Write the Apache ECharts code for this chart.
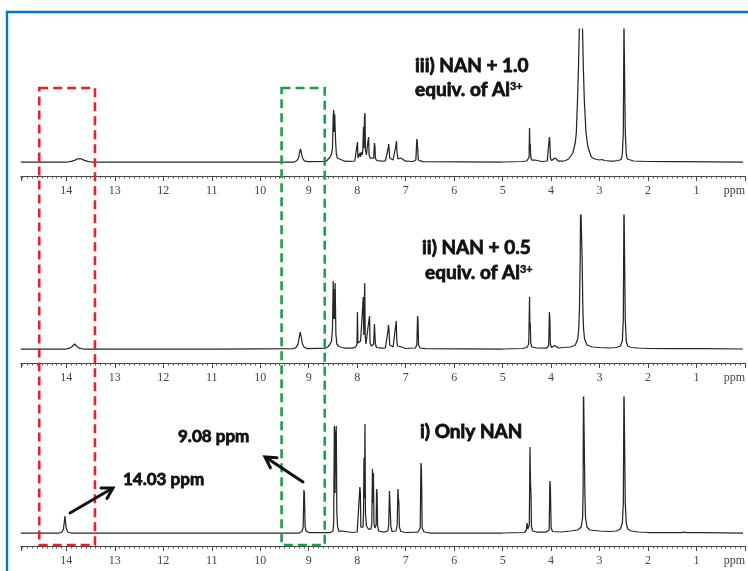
<!DOCTYPE html>
<html><head><meta charset="utf-8">
<script src="https://cdn.jsdelivr.net/npm/echarts@6/dist/echarts.min.js"></script>
<style>html,body{margin:0;padding:0;background:#fff}#c{width:748px;height:571px}</style>
</head><body><div id="c"></div>
<script>
// ---- data (ppm, intensity above baseline) ----
const panelTitles = ['iii) NAN + 1.0', 'ii) NAN + 0.5', 'i) Only NAN'];
const panelSubtitle = 'equiv. of Al{s|3+}';
const tickLabelMax = 14;
const unitLabel = 'ppm';
const peakNotes = ['9.08 ppm', '14.03 ppm'];
const redBoxPpm = [14.56, 13.41];
const greenBoxPpm = [9.56, 8.67];

const specIII = [
[14.94,0],[13.98,0],[13.9,0.6],[13.83,1.6],[13.77,3.2],[13.73,3.8],[13.69,3.2],[13.63,1.6],[13.56,0.6],[13.48,0],
[12.02,0],[12.0,0.6],[11.98,0],[10.82,0],[10.8,1],[10.78,0],[10.1,0],[10.08,0.6],[10.06,0],
[9.3,0],[9.25,1.2],[9.21,4],[9.19,9],[9.17,13],[9.15,9],[9.13,4],[9.09,1.2],[9.02,0.4],
[8.64,0.6],[8.6,2],[8.56,5],[8.53,8],[8.51,14],[8.495,45],[8.485,52],[8.475,30],[8.465,48],[8.455,50],[8.445,20],[8.43,8],[8.41,4],[8.37,2],[8.34,2.5],[8.32,1.5],[8.26,0.8],[8.15,0.6],
[8.05,1],[8.01,3],[7.995,20],[7.985,4],[7.96,6],[7.945,9],[7.935,5],[7.915,10],[7.9,7],[7.885,11],[7.87,35],[7.86,14],[7.85,45],[7.84,49],[7.83,12],[7.81,7],[7.79,9],[7.775,22],[7.765,25],[7.755,7],[7.73,4],[7.7,2.5],[7.66,4],[7.645,19],[7.635,16],[7.625,4],[7.6,1.5],[7.5,0.8],[7.42,1],[7.38,3],[7.36,14],[7.35,18],[7.34,12],[7.33,4],[7.3,2],[7.26,2],[7.22,4],[7.2,17],[7.19,21],[7.18,10],[7.16,3],[7.12,3],[7.1,4],[7.08,2],[7.0,0.8],[6.85,0.5],[6.79,2],[6.77,23],[6.76,20],[6.74,2],[6.65,0.3],
[5.0,0],[4.6,0.5],[4.5,1],[4.47,2],[4.455,5],[4.445,34],[4.435,12],[4.43,18],[4.42,5],[4.4,2],[4.36,1.5],[4.33,2],[4.3,1],[4.2,0.5],[4.08,1],[4.05,3],[4.035,25],[4.025,20],[4.015,4],[3.99,1.5],[3.95,2],[3.92,4],[3.9,2],[3.85,1],[3.75,1],
[3.7,1.5],[3.64,3],[3.6,5],[3.55,9],[3.5,20],[3.48,29],[3.455,62],[3.435,95],[3.415,140],[3.355,140],[3.335,95],[3.315,62],[3.28,29],[3.24,15],[3.17,5],[3.1,3],[3.0,2],[2.95,2.5],[2.9,1.5],[2.8,1],[2.7,1],[2.6,1.5],[2.55,3],[2.53,8],[2.51,30],[2.497,140],[2.483,140],[2.47,30],[2.45,8],[2.43,3],[2.4,1.5],[2.3,1],[2.0,0.5],[1.5,0.3],[1.36,0.3],[1.34,1.5],[1.32,0.3],[0.04,0]
];

const specII = [
[14.94,0],[14.0,0],[13.93,0.8],[13.88,2.5],[13.85,4.5],[13.83,5],[13.81,4.5],[13.78,2.5],[13.73,0.8],[13.66,0],
[10.82,0],[10.8,0.8],[10.78,0],
[9.32,0.3],[9.26,1.5],[9.22,5],[9.195,12],[9.175,17],[9.155,12],[9.13,5],[9.09,1.5],[9.02,0.4],
[8.65,0.8],[8.6,2.5],[8.56,5],[8.53,8],[8.51,20],[8.495,68],[8.485,30],[8.475,60],[8.465,30],[8.455,66],[8.44,15],[8.42,5],[8.38,2.5],[8.34,2.5],[8.32,1.5],[8.25,0.8],[8.1,0.8],
[8.03,2],[8.005,5],[7.995,37],[7.985,6],[7.97,4],[7.95,6],[7.93,8],[7.91,6],[7.89,10],[7.875,52],[7.865,14],[7.855,40],[7.845,66],[7.835,14],[7.82,5],[7.8,4],[7.78,6],[7.755,30],[7.745,33],[7.735,6],[7.71,3],[7.68,3],[7.66,5],[7.645,25],[7.635,27],[7.625,5],[7.6,1.5],[7.5,0.8],[7.42,1],[7.38,3],[7.365,18],[7.355,24],[7.345,20],[7.33,4],[7.3,2],[7.26,2],[7.22,4],[7.205,24],[7.195,28],[7.185,10],[7.17,3],[7.12,2.5],[7.1,3],[7.08,1.5],[7.0,0.5],[6.8,1],[6.77,4],[6.755,33],[6.745,28],[6.735,4],[6.7,1],[6.6,0.3],
[5.0,0],[4.6,0.5],[4.5,1.5],[4.47,4],[4.46,8],[4.455,6],[4.445,52],[4.437,20],[4.43,26],[4.42,6],[4.4,2],[4.3,1],[4.1,0.8],[4.05,3],[4.035,37],[4.025,30],[4.015,5],[3.99,1.5],[3.95,2],[3.93,3.5],[3.91,2],[3.85,1],[3.75,1.5],
[3.6,2],[3.5,4],[3.45,10],[3.43,20],[3.415,40],[3.4,90],[3.39,150],[3.37,150],[3.36,90],[3.345,40],[3.33,20],[3.31,10],[3.26,4],[3.15,2],[3.0,1.5],[2.8,1],[2.65,1.5],[2.57,3],[2.53,8],[2.51,30],[2.497,150],[2.483,150],[2.47,30],[2.45,8],[2.42,3],[2.35,1.5],[2.2,1],[2.0,0.5],[1.5,0.3],[1.37,0.3],[1.35,1.5],[1.33,0.3],[0.9,0.3],[0.86,1],[0.82,0.3],[0.04,0]
];

const specI = [
[14.94,0],[14.15,0],[14.09,1],[14.06,4],[14.045,10],[14.03,17],[14.015,10],[14.0,4],[13.97,1],[13.9,0],
[10.8,0],[10.77,1.2],[10.74,0],
[9.2,0],[9.14,1.5],[9.115,6],[9.1,43],[9.09,40],[9.075,6],[9.05,1.5],[8.98,0.3],
[8.55,0.5],[8.5,2],[8.485,10],[8.472,107],[8.457,40],[8.445,100],[8.432,107],[8.42,20],[8.405,6],[8.38,2],[8.35,1],[8.32,2],[8.3,4],[8.28,1],[8.1,0.5],
[8.0,1],[7.96,3],[7.945,46],[7.935,40],[7.925,6],[7.9,4],[7.88,6],[7.87,20],[7.86,75],[7.85,35],[7.84,109],[7.83,20],[7.81,7],[7.79,5],[7.77,4],[7.72,4],[7.7,8],[7.685,64],[7.675,30],[7.665,60],[7.655,10],[7.635,5],[7.61,8],[7.6,44],[7.59,40],[7.58,8],[7.56,2],[7.45,0.8],[7.37,2],[7.35,8],[7.335,42],[7.325,30],[7.315,28],[7.305,6],[7.28,1.5],[7.2,2],[7.175,8],[7.16,44],[7.15,35],[7.14,30],[7.13,6],[7.1,1.5],[7.0,0.5],[6.75,0.8],[6.7,5],[6.685,70],[6.675,65],[6.66,5],[6.62,1],[6.5,0],
[5.0,0],[4.55,0.5],[4.51,3],[4.495,10],[4.48,4],[4.45,8],[4.435,86],[4.425,50],[4.415,40],[4.405,6],[4.38,2],[4.3,1],[4.1,1],[4.04,3],[4.025,52],[4.015,46],[4.0,5],[3.97,1.5],[3.8,1],[3.6,2],[3.45,3],[3.38,6],[3.35,15],[3.34,40],[3.332,150],[3.312,150],[3.303,40],[3.29,15],[3.26,6],[3.2,3],[3.0,2],[2.8,1.5],[2.65,2],[2.57,4],[2.53,10],[2.51,30],[2.497,150],[2.483,150],[2.47,30],[2.45,10],[2.42,4],[2.35,2],[2.2,1],[2.0,0.5],[1.3,0.3],[1.25,0.8],[1.2,0.3],[0.9,0.3],[0.86,1.2],[0.82,0.3],[0.04,0]
];

// ---- layout ----
const panels = [
  {top: 29, height: 147, ymin: -14, ymax: 133, data: specIII},
  {top: 215, height: 148, ymin: -14, ymax: 134, data: specII},
  {top: 397, height: 149, ymin: -13, ymax: 136, data: specI}
];
const gridLeft = 20.8, gridWidth = 729.1;

const chart = echarts.init(document.getElementById('c'));
const option = {
  animation: false,
  backgroundColor: '#fff',
  grid: panels.map(p => ({left: gridLeft, width: gridWidth, top: p.top, height: p.height})),
  xAxis: panels.map((p, i) => ({
    type: 'value', gridIndex: i, inverse: true, min: 0, max: 14.94, interval: 1,
    axisLine: {onZero: false, lineStyle: {color: '#444', width: 1}},
    axisTick: {show: true, length: 5, lineStyle: {color: '#444'}},
    minorTick: {show: true, splitNumber: 10, length: 2.5, lineStyle: {color: '#555'}},
    splitLine: {show: false}, minorSplitLine: {show: false},
    axisLabel: {
      margin: 9, color: '#444', fontFamily: 'Liberation Serif', fontSize: 12,
      showMinLabel: true, showMaxLabel: true, alignMinLabel: 'right',
      formatter: v => v === 0 ? unitLabel : (Number.isInteger(v) && v >= 1 && v <= tickLabelMax ? String(v) : '')
    }
  })),
  yAxis: panels.map((p, i) => ({type: 'value', gridIndex: i, min: p.ymin, max: p.ymax, show: false})),
  series: panels.map((p, i) => ({
    type: 'line', xAxisIndex: i, yAxisIndex: i, data: p.data, showSymbol: false, symbol: 'none',
    sampling: null, clip: true, lineStyle: {color: '#262626', width: 1.25}
  }))
};
chart.setOption(option);

const px = v => chart.convertToPixel({xAxisIndex: 0}, v);
const boldFont = 'Lato';
const supRich = {s: {fontSize: 11, fontWeight: 'bold', fontFamily: boldFont, verticalAlign: 'top', fill: '#111', stroke: '#111', lineWidth: 0.5}};
function label(x, y, text, size) {
  return {type: 'text', x: x, y: y, z: 10, style: {text: text, fontSize: size, fontWeight: 'bold', fontFamily: boldFont, fill: '#111', stroke: '#111', lineWidth: 0.8, verticalAlign: 'middle', rich: supRich}};
}
function dashBox(range, color) {
  const x1 = px(range[0]), x2 = px(range[1]);
  return {type: 'rect', z: 5, shape: {x: x1, y: 88, width: x2 - x1, height: 457},
    style: {fill: null, stroke: color, lineWidth: 2.6, lineDash: [9, 5]}};
}
const arrowStyle = {stroke: '#111', lineWidth: 3, fill: null, lineCap: 'round', lineJoin: 'miter'};
chart.setOption({graphic: [
  {type: 'polyline', z: 20, shape: {points: [[7, 571], [7, 12], [748, 12]]}, style: {stroke: '#0b71c4', lineWidth: 2.4, fill: null}},
  dashBox(redBoxPpm, '#e5222b'),
  dashBox(greenBoxPpm, '#1f9e4c'),
  label(415, 66, panelTitles[0], 19),
  label(415, 90, panelSubtitle, 19),
  label(422, 248, panelTitles[1], 19),
  label(425, 273, panelSubtitle, 19),
  label(420, 432, panelTitles[2], 19),
  label(178, 437, peakNotes[0], 17),
  label(123, 480, peakNotes[1], 17),
  {type: 'polyline', z: 10, shape: {points: [[70, 513], [112, 488.5]]}, style: arrowStyle},
  {type: 'polyline', z: 10, shape: {points: [[101, 488], [113, 488], [107, 498.4]]}, style: arrowStyle},
  {type: 'polyline', z: 10, shape: {points: [[303, 482], [266, 457.5]]}, style: arrowStyle},
  {type: 'polyline', z: 10, shape: {points: [[270.4, 467.7], [265, 457], [277, 457.7]]}, style: arrowStyle}
]});
</script></body></html>
